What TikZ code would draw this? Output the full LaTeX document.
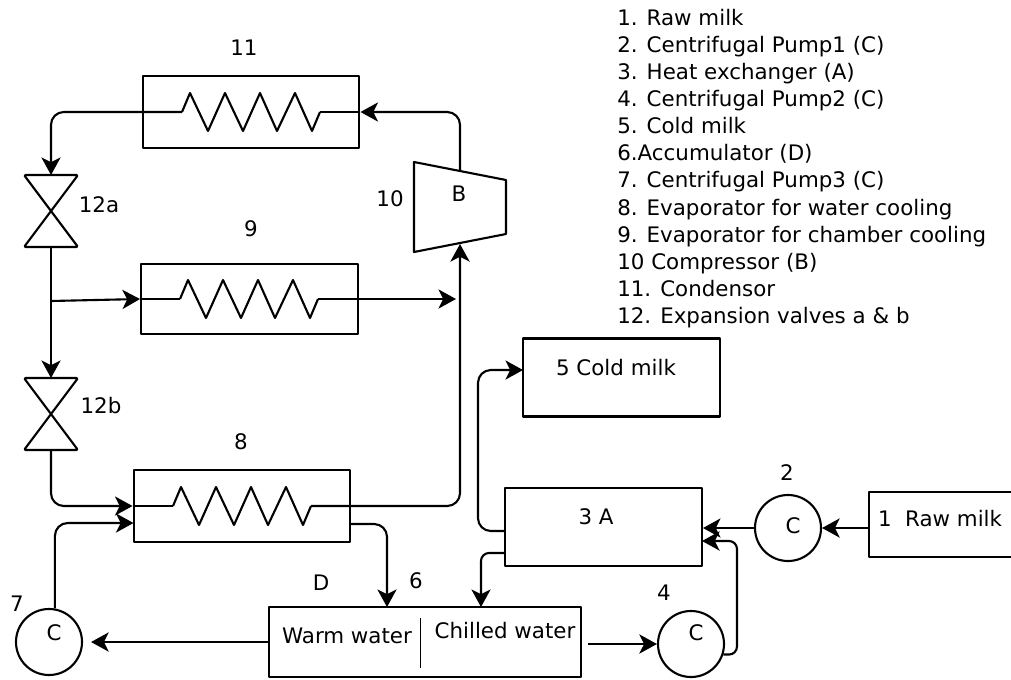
\documentclass[tikz,border=0pt]{standalone}
\usepackage{fontspec}
\setmainfont{DejaVu Sans}
\usetikzlibrary{arrows.meta}
\tikzset{
    pipe/.style={line width=1.5pt, line join=round},
    flow/.style={pipe, -{Stealth[length=4.4mm, width=4.8mm, inset=1.2mm]}, rounded corners=3.2mm},
    tag/.style={font=\fontsize{15.2}{18}\selectfont, inner sep=0pt},
    unit/.style={draw, pipe, rectangle, inner sep=0pt},
    cooler/.style={unit, minimum width=5.42cm, minimum height=1.8cm},
    tank/.style={unit, minimum width=4.92cm, minimum height=1.95cm},
    pump/.style={draw, pipe, circle, minimum size=1.65cm, inner sep=0pt},
    coil/.pic={
        \draw[pipe] (0,0) -- (8,-19) -- (26,19) -- (43,-19) -- (61,19) -- (78,-19)
            -- (95,19) -- (113,-19) -- (130,19) -- (138,0);
        \coordinate (-in) at (0,0);
        \coordinate (-out) at (138,0);
    },
    valve/.pic={
        \draw[pipe, rounded corners=1pt] (-27,-36) -- (27,-36) -- (-27,36) -- (27,36) -- cycle;
        \coordinate (-top) at (0,-36);
        \coordinate (-bot) at (0,36);
    }
}

\begin{document}
\begin{tikzpicture}[x=0.025cm, y=-0.025cm]
    \useasboundingbox (0,0) rectangle (1011,679);

    % Legend
    \node[tag, anchor=north west, align=left, font=\fontsize{15.2}{19.25}\selectfont] (legend) at (617,9) {
        1. Raw milk\\
        2. Centrifugal Pump1 (C)\\
        3. Heat exchanger (A)\\
        4. Centrifugal Pump2 (C)\\
        5. Cold milk\\
        6.Accumulator (D)\\
        7. Centrifugal Pump3 (C)\\
        8. Evaporator for water cooling\\
        9. Evaporator for chamber cooling\\
        10 Compressor (B)\\
        11. Condensor\\
        12. Expansion valves a \& b};

    % Condenser
    \node[cooler] (cond) at (251,112) {};
    \pic (coilcond) at (182,112) {coil};
    \node[tag] (lblcond) at (244,48) {11};

    % Evaporator chamber
    \node[cooler, minimum height=1.75cm] (evapc) at (249.5,299) {};
    \pic (coilc) at (180,299) {coil};
    \node[tag] (lblevapc) at (251,229) {9};

    % Evaporator water
    \node[cooler] (evapw) at (242,506) {};
    \pic (coilw) at (173,506) {coil};
    \node[tag] (lblevapw) at (241,442) {8};

    % Valves
    \pic (valvea) at (51,211) {valve};
    \pic (valveb) at (51,414) {valve};
    \node[tag] (lblvalvea) at (99,205) {12a};
    \node[tag] (lblvalveb) at (101,406) {12b};

    % Compressor
    \draw[pipe] (414,162) -- (506,180) -- (506,234) -- (414,252) -- cycle;
    \coordinate (compin) at (460,244);
    \coordinate (compout) at (460,171);
    \node[tag] (lblcomp) at (390,199) {10};
    \node[tag] (lblb) at (459,194) {B};

    % Accumulator
    \node[tank, minimum width=7.8cm, minimum height=1.75cm] (accu) at (425,642) {};
    \node[tag] (warm) at (347,636) {Warm water};
    \node[tag] (chilled) at (505,631) {Chilled water};
    \coordinate (splittop) at (420,618);
    \coordinate (splitbot) at (420,668);
    \draw[line width=0.7pt] (splittop) -- (splitbot);
    \node[tag] (lbld) at (321,583) {D};
    \node[tag] (lblaccu) at (416,581) {6};

    % Milk side
    \node[tank] (cold) at (621.5,377.5) {};
    \node[tag] (coldtxt) at (616,368) {5 Cold milk};
    \node[tank] (exch) at (603.5,527) {};
    \node[tag] (exchtxt) at (596,517) {3 A};
    \node[unit, minimum width=3.8cm, minimum height=1.62cm] (raw) at (945,524.5) {};
    \node[tag] (rawtxt) at (940,519) {1\ \ Raw milk};

    % Pumps
    \node[pump] (pumpa) at (788,528) {};
    \node[tag] (ca) at (793,526) {C};
    \node[tag] (lblpumpa) at (787,473) {2};
    \node[pump] (pumpb) at (691,644) {};
    \node[tag] (cb) at (696,633) {C};
    \node[tag] (lblpumpb) at (664,593) {4};
    \node[pump] (pumpc) at (49,642) {};
    \node[tag] (cc) at (54,633) {C};
    \node[tag] (lblpumpc) at (17,604) {7};

    % Free ends
    \coordinate (tee) at (51,301);
    \coordinate (join) at (456,299);
    \coordinate (outwb) at (350.5,524);
    \coordinate (inwb) at (133.5,523);
    \coordinate (accuw) at (387,607);
    \coordinate (accuc) at (481,607);
    \coordinate (exa) at (505,531);
    \coordinate (exb) at (505,553);
    \coordinate (riser) at (478,370);
    \coordinate (coldin) at (523,370);
    \coordinate (loop) at (737,541);
    \coordinate (exin) at (702,541);

    % Refrigerant loop
    \draw[flow] (compout) |- (cond.east);
    \draw[pipe] (cond.east) -- (coilcond-out);
    \draw[flow] (coilcond-in) -| (valvea-top);
    \draw[flow] (valvea-bot) -- (valveb-top);
    \draw[flow] (tee) -- (evapc.west);
    \draw[pipe] (evapc.west) -- (coilc-in);
    \draw[pipe] (coilc-out) -- (evapc.east);
    \draw[flow] (evapc.east) -- (join);
    \draw[flow] (valveb-bot) |- (evapw.west);
    \draw[pipe] (evapw.west) -- (coilw-in);
    \draw[flow] (coilw-out) -| (compin);

    % Water loop
    \draw[flow] (outwb) -| (accuw);
    \draw[flow] (pumpc.80) |- (inwb);
    \draw[flow, shorten >=0.2cm] (accu.west) -- (pumpc.east);
    \draw[flow, shorten <=0.15cm] (accu.east |- pumpb.west) -- (pumpb.west);
    \draw[flow, rounded corners=2mm] (pumpb.-18) -| (loop) -- (exin);
    \draw[flow, rounded corners=2mm] (exb) -| (accuc);

    % Milk line
    \draw[flow] (raw.west |- pumpa.east) -- (pumpa.east);
    \draw[flow] (pumpa.west) -- (exch.east |- pumpa.west);
    \draw[flow] (exa) -| (riser) -- (coldin);
\end{tikzpicture}
\end{document}
